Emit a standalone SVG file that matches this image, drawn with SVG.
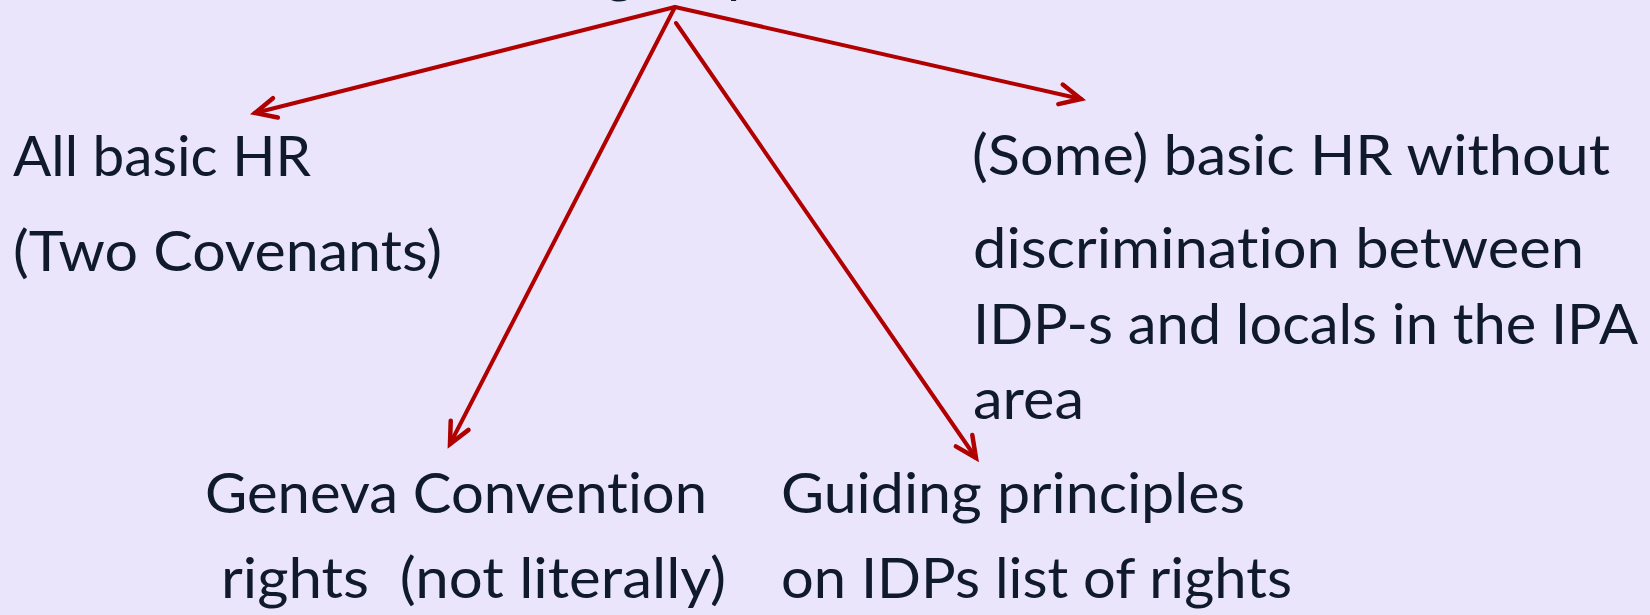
<svg xmlns="http://www.w3.org/2000/svg" width="1650" height="615" viewBox="0 0 1650 615">
  <defs>
    <style>
      .t { font-family: Lato, "Open Sans", "Liberation Sans", sans-serif; font-size: 57px; fill: #0f1a2c; font-variant-ligatures: none; font-feature-settings: "liga" 0, "clig" 0; white-space: pre; }
      .c { fill: none; stroke: #b00000; stroke-width: 4; stroke-linecap: round; }
    </style>
    <marker id="ah" markerUnits="userSpaceOnUse" markerWidth="40" markerHeight="40" viewBox="-30 -20 40 40" refX="0" refY="0" orient="auto">
      <path d="M -21 -10 L 0 0 L -21 10" fill="none" stroke="#b00000" stroke-width="4.5" stroke-linecap="round" stroke-linejoin="miter"/>
    </marker>
  </defs>
  <rect x="0" y="0" width="1650" height="615" fill="#ebe5fb"/>

  <g id="title">
    <text class="t" x="605" y="-9">g</text>
    <text class="t" x="727" y="-9">p</text>
  </g>

  <g id="connectors">
    <line class="c" x1="675" y1="7" x2="255" y2="113" marker-end="url(#ah)"/>
    <line class="c" x1="675" y1="7" x2="1081" y2="99" marker-end="url(#ah)"/>
    <line class="c" x1="675" y1="7" x2="450" y2="444" marker-end="url(#ah)"/>
    <line class="c" x1="676" y1="23" x2="976" y2="458" marker-end="url(#ah)"/>
  </g>

  <g id="node-all-basic">
    <text class="t" x="13" y="176" textLength="298" lengthAdjust="spacingAndGlyphs">All basic HR</text>
    <text class="t" x="13" y="271" textLength="429" lengthAdjust="spacingAndGlyphs">(Two Covenants)</text>
  </g>

  <g id="node-some-basic">
    <text class="t" x="972" y="175" textLength="638" lengthAdjust="spacingAndGlyphs">(Some) basic HR without</text>
    <text class="t" x="973" y="268" textLength="611" lengthAdjust="spacingAndGlyphs">discrimination between</text>
    <text class="t" x="973" y="344" textLength="665" lengthAdjust="spacingAndGlyphs">IDP-s and locals in the IPA</text>
    <text class="t" x="973" y="419" textLength="111" lengthAdjust="spacingAndGlyphs">area</text>
  </g>

  <g id="node-geneva">
    <text class="t" x="205" y="513" textLength="502" lengthAdjust="spacingAndGlyphs">Geneva Convention</text>
    <text class="t" x="221" y="598" textLength="505" lengthAdjust="spacingAndGlyphs" xml:space="preserve">rights  (not literally)</text>
  </g>

  <g id="node-guiding">
    <text class="t" x="781" y="513" textLength="464" lengthAdjust="spacingAndGlyphs">Guiding principles</text>
    <text class="t" x="781" y="598" textLength="511" lengthAdjust="spacingAndGlyphs">on IDPs list of rights</text>
  </g>
</svg>
